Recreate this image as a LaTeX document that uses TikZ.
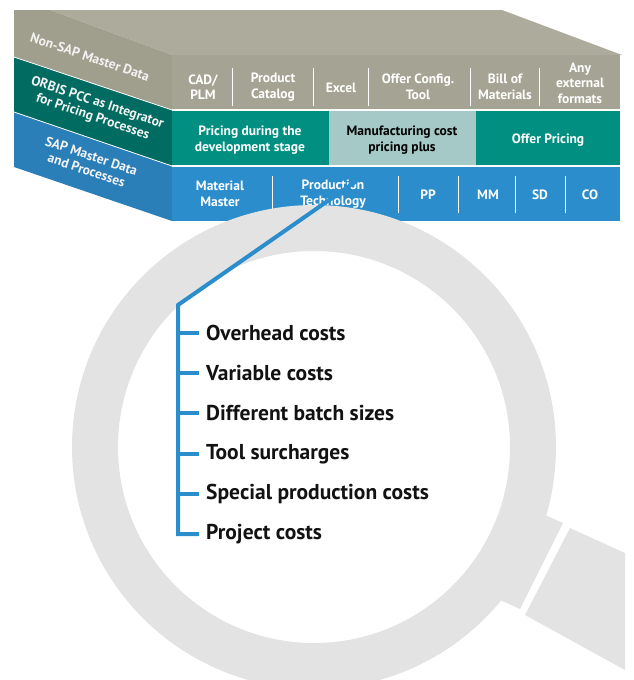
\documentclass[tikz,border=0pt]{standalone}
\usepackage{fontspec}
\setmainfont{PT Sans}
\usetikzlibrary{positioning}
\definecolor{stone}{HTML}{A5A494}
\definecolor{stonetop}{HTML}{ADAC9C}
\definecolor{stoneside}{HTML}{A09F8E}
\definecolor{teal}{HTML}{008F80}
\definecolor{tealside}{HTML}{006B60}
\definecolor{tealpale}{HTML}{A4C9C6}
\definecolor{sapblue}{HTML}{2B8DCC}
\definecolor{sapside}{HTML}{2A7FB8}
\definecolor{lens}{HTML}{E3E3E3}
\tikzset{
  celltext/.style={text=white, align=center, font=\fontsize{13.5}{15.5}\selectfont\bfseries},
  sidetext/.style={text=white!95!black, align=center, rotate=-18.5,
    font=\fontsize{13.5}{15}\selectfont\bfseries},
  sep/.style={draw=white, line width=1pt},
  item/.style={anchor=west, inner sep=0pt, text=black!93, font=\fontsize{21.5}{22}\selectfont\bfseries},
  pointer/.style={draw=sapblue, line width=4pt}
}
\begin{document}
\begin{tikzpicture}[x=1pt, y=-1pt]
\useasboundingbox (0,0) rectangle (633,680);
\clip (0,0) rectangle (633,680);

% the box
\fill[stonetop] (50,10) -- (502,10) -- (622,55) -- (172,55) -- cycle;
\fill[stoneside] (14,10) -- (50,10) -- (172,55) -- (172,110) -- (14,57) -- cycle;
\fill[tealside] (14,57) -- (172,110) -- (172,166) -- (14,112) -- cycle;
\fill[sapside] (14,112) -- (172,166) -- (172,221) -- (14,167) -- cycle;
\draw[white, line width=0.8pt] (14,57) -- (172,110) (14,112) -- (172,166);
\fill[stone] (172,55) rectangle (620,110);
\fill[teal] (172,110) rectangle (329,166);
\fill[tealpale] (329,110) rectangle (476,166);
\fill[teal] (476,110) rectangle (620,166);
\fill[sapblue] (172,166) rectangle (620,221);
\draw[white, line width=1.2pt] (172,110) -- (620,110) (172,166) -- (620,166);

\node[sidetext] (nonsap) at (90,57) {Non-SAP Master Data};
\node[sidetext] (orbis) at (95,110) {ORBIS PCC as Integrator\\for Pricing Processes};
\node[sidetext] (sapdata) at (89,163) {SAP Master Data\\and Processes};

\foreach \x in {232,313,368,470,539} \draw[sep] (\x,68) -- (\x,106);
\foreach \x in {272,398,458,515,565} \draw[sep] (\x,176) -- (\x,213);

\node[celltext] (cad) at (203,87) {CAD/\\PLM};
\node[celltext] (catalog) at (273,87) {Product\\Catalog};
\node[celltext] (excel) at (341,88) {Excel};
\node[celltext] (config) at (418,87) {Offer Config.\\Tool};
\node[celltext] (bom) at (505,87) {Bill of\\Materials};
\node[celltext] (anyfmt) at (580,83) {Any\\external\\formats};

\node[celltext] (devpricing) at (250,140) {Pricing during the\\development stage};
\node[celltext, text=black] (mfgcost) at (402,140) {Manufacturing cost\\pricing plus};
\node[celltext] (offerpricing) at (548,140) {Offer Pricing};

\node[celltext] (material) at (220,194) {Material\\Master};
\node[celltext] (prodtech) at (333,194) {Production\\Technology};
\node[celltext] (pp) at (428,195) {PP};
\node[celltext] (mm) at (488,195) {MM};
\node[celltext] (sd) at (540,195) {SD};
\node[celltext] (co) at (590,195) {CO};

% magnifier
\fill[lens, even odd rule] (314,447) circle (242) (314,447) circle (196);
\fill[lens] (525,506) -- (563,523) -- (520,609) -- (480,591) -- cycle;
\fill[lens] (570,528) -- (625,553) -- (625,670) -- (525,615) -- cycle;

% cost items
\node[item] (overhead) at (206,333) {Overhead costs};
\node[item] (variable) at (206,373) {Variable costs};
\node[item] (batch) at (206,413) {Different batch sizes};
\node[item] (tool) at (206,454) {Tool surcharges};
\node[item] (special) at (206,494) {Special production costs};
\node[item] (project) at (206,534) {Project costs};

\coordinate (bend) at (178,305);
\coordinate (tip) at (355,182);
\draw[pointer, line join=miter] (tip) -- (bend) -- (bend |- project.west) -- ([xshift=-7pt]project.west);
\foreach \n in {overhead,variable,batch,tool,special}
  \draw[pointer] (bend |- \n.west) -- ([xshift=-7pt]\n.west);
\end{tikzpicture}
\end{document}
